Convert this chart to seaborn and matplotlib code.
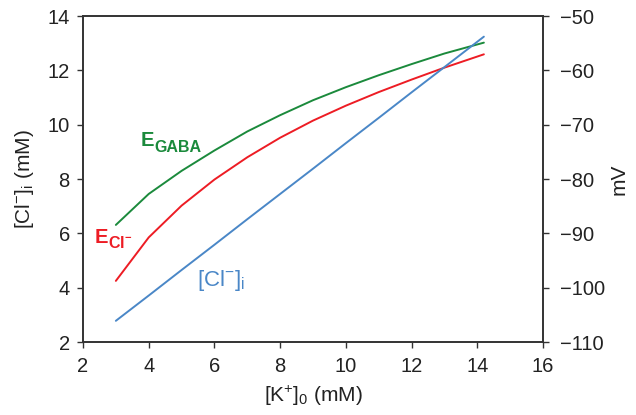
import matplotlib
matplotlib.use("Agg")
import matplotlib.pyplot as plt
import seaborn as sns
import pandas as pd

# ---- data ----
k_out = [3, 4, 5, 6, 7, 8, 9, 10, 11, 12, 13, 14.2]
cl_in = [2.78, 3.71, 4.65, 5.58, 6.52, 7.45, 8.38, 9.32, 10.25, 11.19, 12.12, 13.24]
e_cl = [4.25, 5.85, 7.02, 7.98, 8.80, 9.52, 10.15, 10.70, 11.20, 11.66, 12.10, 12.59]
e_gaba = [6.31, 7.45, 8.30, 9.05, 9.75, 10.35, 10.90, 11.38, 11.82, 12.23, 12.62, 13.02]

x_ticks = [2, 4, 6, 8, 10, 12, 14, 16]
left_ticks = [2, 4, 6, 8, 10, 12, 14]
right_ticks = [-110, -100, -90, -80, -70, -60, -50]

GREEN = "#1b8a3c"
RED = "#ed1c24"
BLUE = "#4a87c7"
SPINE = "#333333"
TXT = "#222222"

sns.set_style("ticks")
plt.rcParams["font.family"] = ["Liberation Sans", "DejaVu Sans"]
plt.rcParams["mathtext.fontset"] = "custom"
plt.rcParams["mathtext.rm"] = "Liberation Sans"
plt.rcParams["mathtext.it"] = "Liberation Sans:italic"
plt.rcParams["mathtext.bf"] = "Liberation Sans:bold"

df = pd.DataFrame({"k": k_out, "cl": cl_in, "ecl": e_cl, "egaba": e_gaba})

fig = plt.figure(figsize=(6.36, 4.15), dpi=100)
ax = fig.add_axes([0.1305, 0.1759, 0.7233, 0.7855])

sns.lineplot(data=df, x="k", y="egaba", color=GREEN, lw=1.4, ax=ax)
sns.lineplot(data=df, x="k", y="ecl", color=RED, lw=1.4, ax=ax)
sns.lineplot(data=df, x="k", y="cl", color=BLUE, lw=1.4, ax=ax)

ax.set_xlim(2, 16)
ax.set_ylim(2, 14)
ax.set_xticks(x_ticks)
ax.set_yticks(left_ticks)

ax2 = ax.twinx()
ax2.set_ylim(-110, -50)
ax2.set_yticks(right_ticks)

for a in (ax, ax2):
    for s in a.spines.values():
        s.set_color(SPINE)
        s.set_linewidth(1.2)
        s.set_visible(True)

LS = 14.5
ax.tick_params(axis="both", direction="out", length=4.5, width=1.0,
               colors=SPINE, labelcolor=TXT, labelsize=LS)
ax.tick_params(axis="x", pad=6)
ax.tick_params(axis="y", pad=5)
ax2.tick_params(axis="y", direction="out", length=4.5, width=1.0,
                colors=SPINE, labelcolor=TXT, labelsize=LS, pad=8)

ax.set_xlabel(r"[K$^{+}$]$_{0}$ (mM)", fontsize=15, color=TXT, labelpad=6)
ax.set_ylabel(r"[Cl$^{-}$]$_{\mathregular{i}}$ (mM)", fontsize=15, color=TXT, labelpad=8)
ax2.set_ylabel("mV", fontsize=15, color=TXT, labelpad=3)

# series labels
ax.text(3.756, 9.21, "E", color=GREEN, fontsize=14.5, fontweight="bold",
        ha="left", va="baseline")
ax.annotate("GABA", xy=(3.756, 9.21), xytext=(9.9, -4.3), textcoords="offset points",
            color=GREEN, fontsize=11.5, fontweight="bold", ha="left", va="baseline")

ax.text(2.344, 5.655, "E", color=RED, fontsize=14.5, fontweight="bold",
        ha="left", va="baseline")
ax.annotate(r"$\mathbf{Cl}^{\mathbf{-}}$", xy=(2.344, 5.655), xytext=(9.6, -3.8),
            textcoords="offset points", color=RED, fontsize=11.5,
            ha="left", va="baseline")

ax.text(5.47, 4.06, r"$\mathregular{[Cl^{-}]_{i}}$", color=BLUE, fontsize=16,
        ha="left", va="baseline")

fig.savefig("out.png", dpi=100)
